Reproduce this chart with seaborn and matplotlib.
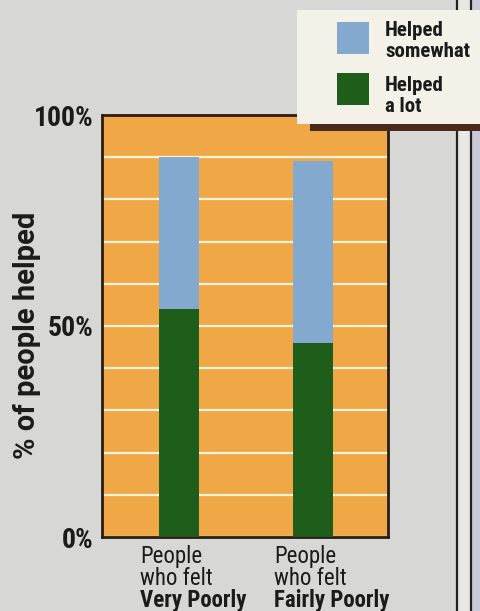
import numpy as np
import pandas as pd
import matplotlib
matplotlib.use("Agg")
import matplotlib.pyplot as plt
import matplotlib.transforms as mtransforms
from matplotlib.patches import Rectangle
from matplotlib.ticker import MultipleLocator
import seaborn as sns

# Data
groups = ["Very Poorly", "Fairly Poorly"]
helped_a_lot = [54, 46]
helped_somewhat = [36, 43]
legend_labels = ["Helped\nsomewhat", "Helped\na lot"]
ytick_vals = [0, 50, 100]
ytick_text = ["0%", "50%", "100%"]

df = pd.DataFrame({"group": groups, "lot": helped_a_lot, "somewhat": helped_somewhat})
df["total"] = df["lot"] + df["somewhat"]

ORANGE = "#EFA845"
BLUE = "#84A9CE"
GREEN = "#1F5D1B"
PAPER = "#D7D7D5"
INK = "#1b1b1b"

sns.set_style("white")
plt.rcParams["font.family"] = ["Roboto Condensed", "DejaVu Sans"]
plt.rcParams["font.stretch"] = "condensed"

W, H = 481, 611
fig = plt.figure(figsize=(W / 100, H / 100), dpi=100)
fig.patch.set_facecolor(PAPER)

# page furniture on the right
fig.add_artist(Rectangle((457 / W, 0), 14 / W, 1, transform=fig.transFigure,
                         facecolor="#E8E8E2", edgecolor="none", zorder=0))
fig.add_artist(Rectangle((471 / W, 0), 10 / W, 1, transform=fig.transFigure,
                         facecolor="#C9C9DA", edgecolor="none", zorder=0))
for xl in (457, 471):
    fig.add_artist(plt.Line2D([xl / W, xl / W], [0, 1], transform=fig.transFigure,
                              color="#222222", lw=1.6, zorder=1))

ax = fig.add_axes([102 / W, 1 - 537 / H, 286 / W, 422 / H])
ax.set_facecolor(ORANGE)

sns.barplot(data=df, x="group", y="total", color=BLUE, width=0.3, linewidth=0,
            saturation=1, errorbar=None, ax=ax, zorder=3)
sns.barplot(data=df, x="group", y="lot", color=GREEN, width=0.3, linewidth=0,
            saturation=1, errorbar=None, ax=ax, zorder=4)

ax.set_xlim(-0.575, 1.56)
ax.set_ylim(0, 100)
ax.yaxis.set_minor_locator(MultipleLocator(10))
ax.grid(axis="y", which="both", color="#FFF1DC", lw=1.6, zorder=1)
ax.set_axisbelow(True)
ax.set_yticks(ytick_vals)
ax.set_yticklabels(ytick_text, fontsize=20, fontweight="bold", color=INK)
ax.tick_params(axis="y", which="both", length=0, pad=6)
ax.set_xticks([])
ax.set_xlabel("")
ax.set_ylabel("")
for s in ax.spines.values():
    s.set_visible(True)
    s.set_color("#2a1c12")
    s.set_linewidth(2)

fig.text(27 / W, 1 - 335 / H, "% of people helped", rotation=90, ha="center",
         va="center", fontsize=21, fontweight="bold", color=INK,
         family=["Roboto", "DejaVu Sans"], fontstretch="normal")

# category labels under the bars, one text per line
trans = mtransforms.blended_transform_factory(ax.transData, ax.transAxes)
lines = ["People", "who felt"]
for i, g in enumerate(groups):
    for j, txt in enumerate(lines + [g]):
        base = 563 + 22 * j
        ax.text(i - 0.29, -(base - 537) / 422, txt, transform=trans, ha="left",
                va="baseline", fontsize=16.5, color=INK,
                fontweight="bold" if j == 2 else "normal")

# legend card overlapping the top right corner
fig.add_artist(Rectangle((310 / W, 1 - 131 / H), 175 / W, 10 / H, transform=fig.transFigure,
                         facecolor="#4a2a1a", edgecolor="none", zorder=10))
fig.add_artist(Rectangle((297 / W, 1 - 124 / H), 190 / W, 114 / H, transform=fig.transFigure,
                         facecolor="#F3F1E8", edgecolor="none", zorder=11))
for k, (lab, col) in enumerate(zip(legend_labels, [BLUE, GREEN])):
    top = 22 + k * 51
    fig.add_artist(Rectangle((337 / W, 1 - (top + 32) / H), 32 / W, 32 / H,
                             transform=fig.transFigure, facecolor=col,
                             edgecolor="none", zorder=12))
    for j, part in enumerate(lab.split("\n")):
        base = 36 + k * 55 + 21 * j
        fig.text(385 / W, 1 - base / H, part, ha="left", va="baseline", fontsize=15,
                 fontweight="bold", color=INK, zorder=13)

fig.savefig("out.png", dpi=100, facecolor=fig.get_facecolor())
